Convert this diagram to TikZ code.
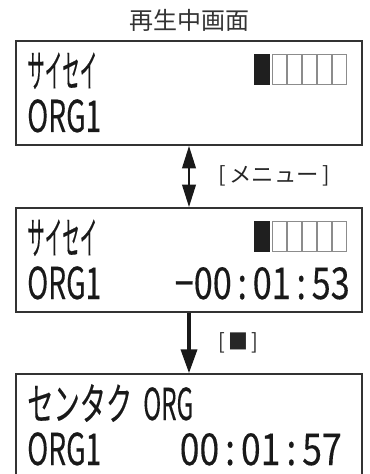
\documentclass[tikz,border=0pt]{standalone}
\usepackage{graphicx}
\usepackage{fontspec}
\setmainfont{Noto Sans CJK JP}
\newfontfamily\lcdfont[FakeBold=0.25]{Noto Sans CJK JP}
\newfontfamily\kanafont[FakeBold=0.4,RawFeature=+hwid]{Noto Sans CJK JP}
\usetikzlibrary{arrows.meta,positioning}

% squeeze a text to a given width (in px) and keep its height
\newlength\lcdw
\newcommand\fitx[2]{\settowidth\lcdw{#2}\pgfmathsetmacro\lcdr{#1*0.75/\lcdw}\scalebox{\lcdr}[1]{#2}}
\newcommand\kana[2]{\fitx{#1}{\kanafont #2}}

\tikzset{
  screen/.style={draw=black!80, line width=1.1pt, minimum width=259.5pt, minimum height=78pt, inner sep=0pt},
  lcd/.style={anchor=base west, inner sep=0pt, text=black!90, font=\lcdfont\fontsize{33}{33}\selectfont},
  keylabel/.style={anchor=west, inner sep=0pt, text=black!85, font=\fontsize{16}{16}\selectfont},
  keyarrow/.style={line width=2.2pt, black!90},
  cell/.style={draw=black!45, line width=0.6pt},
}

\begin{document}
\begin{tikzpicture}[x=0.75pt, y=-0.75pt]
\useasboundingbox (0,0) rectangle (369,474);

\node[text=black!80, font=\fontsize{18}{18}\selectfont] (title) at (189,20) {再生中画面};

% screens
\node[screen] (scr1) at (189,93) {};
\node[screen] (scr2) at (189,260) {};
\node[screen] (scr3) at (189,426) {};

% level meter
\foreach \y in {54,221} {
  \fill[black!88] (254,\y) rectangle (270,\y+31);
  \foreach \i in {0,...,4}
    \draw[cell] (272.5+\i*15,\y+0.5) rectangle (286+\i*15,\y+30.5);
}

% display texts
\node[lcd] (mode1) at (27,87) {\kana{70}{サイセイ}};
\node[lcd] (name1) at (27,132) {\fitx{74}{ORG1}};
\node[lcd] (mode2) at (27,254) {\kana{70}{サイセイ}};
\node[lcd] (name2) at (27,299) {\fitx{74}{ORG1}};
\node[lcd, anchor=base east] (time2) at (350,299) {\fitx{175}{−00\,:\,01\,:\,53}};
\node[lcd] (mode3) at (27,420) {\kana{105}{センタク}\hspace{8.25pt}\fitx{50}{ORG}};
\node[lcd] (name3) at (27,465) {\fitx{74}{ORG1}};
\node[lcd, anchor=base east] (time3) at (342,465) {\fitx{162}{00\,:\,01\,:\,57}};

% keys
\draw[keyarrow, {Triangle[length=17pt,width=10pt]}-{Triangle[length=17pt,width=10pt]}] (scr1) -- (scr2);
\node[keylabel] (menu) at (218,176) {\fitx{112}{[\,メニュー\,]}};
\draw[keyarrow, line width=2.8pt, -{Triangle[length=18pt,width=12pt]}] (scr2) -- (scr3);
\node[keylabel] (stop) at (218,343) {\fitx{40}{[\,■\,]}};
\end{tikzpicture}
\end{document}
